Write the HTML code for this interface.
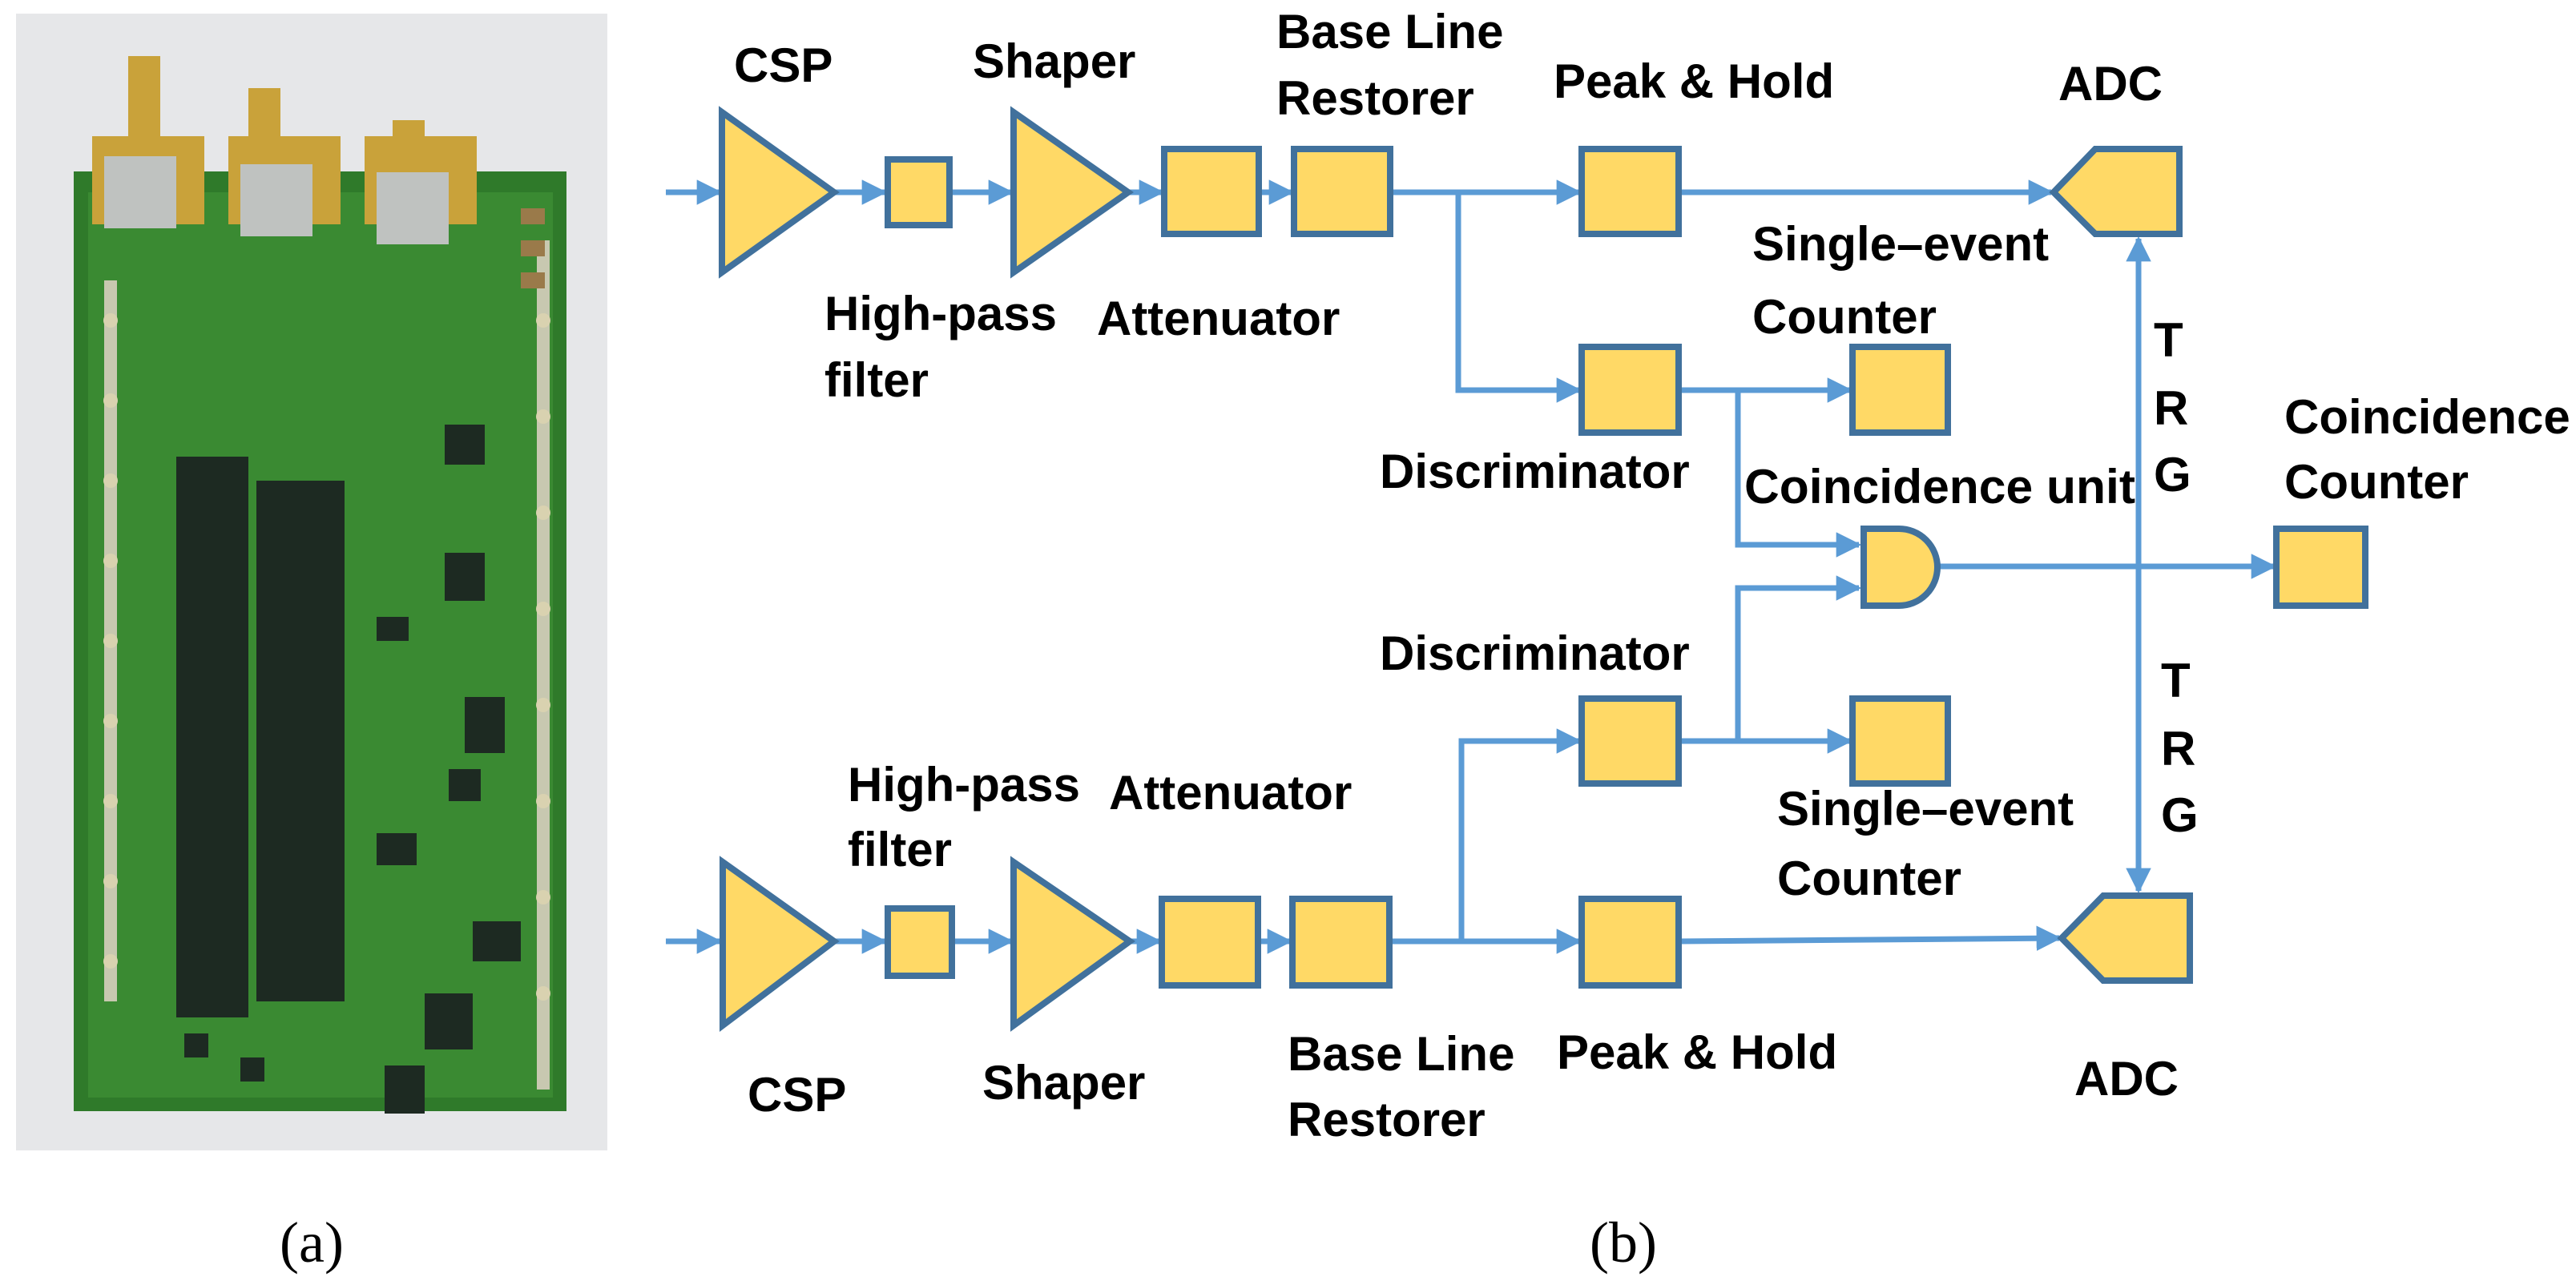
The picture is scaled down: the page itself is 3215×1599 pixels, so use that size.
<!DOCTYPE html>
<html><head><meta charset="utf-8"><style>
html,body{margin:0;padding:0;background:#fff;}
svg{display:block}
text{font-family:"Liberation Sans",sans-serif;font-weight:bold;font-size:60px;fill:#000}
.s{font-family:"Liberation Serif",serif;font-weight:normal;font-size:72px}
</style></head><body>
<svg width="3215" height="1599" viewBox="0 0 3215 1599" xmlns="http://www.w3.org/2000/svg">
<defs>
<marker id="a" viewBox="0 0 10 10" refX="9" refY="5" markerWidth="4.5" markerHeight="4.5" orient="auto-start-reverse" markerUnits="strokeWidth">
<path d="M0,0 L10,5 L0,10 z" fill="#5B9BD5"/></marker>
</defs>
<!-- photo -->
<rect x="20" y="17" width="738" height="1419" fill="#e6e7e9"/>
<rect x="92" y="214" width="615" height="1173" fill="#2f7a2a"/>
<rect x="110" y="240" width="580" height="1130" fill="#3a8a32"/>
<g fill="#c9a23a">
<rect x="115" y="170" width="140" height="110"/><rect x="285" y="170" width="140" height="110"/><rect x="455" y="170" width="140" height="110"/>
<rect x="160" y="70" width="40" height="110"/><rect x="310" y="110" width="40" height="80"/><rect x="490" y="150" width="40" height="70"/>
</g>
<g fill="#bfc2c0"><rect x="130" y="195" width="90" height="90"/><rect x="300" y="205" width="90" height="90"/><rect x="470" y="215" width="90" height="90"/></g>
<g fill="#1d2a22">
<rect x="220" y="570" width="90" height="700"/><rect x="320" y="600" width="110" height="650"/>
<rect x="555" y="530" width="50" height="50"/><rect x="555" y="690" width="50" height="60"/>
<rect x="580" y="870" width="50" height="70"/><rect x="590" y="1150" width="60" height="50"/>
<rect x="530" y="1240" width="60" height="70"/><rect x="480" y="1330" width="50" height="60"/>
<rect x="470" y="1040" width="50" height="40"/><rect x="230" y="1290" width="30" height="30"/>
<rect x="300" y="1320" width="30" height="30"/><rect x="400" y="1000" width="30" height="40"/>
<rect x="470" y="770" width="40" height="30"/><rect x="560" y="960" width="40" height="40"/>
</g>
<g fill="#c8c8b0"><rect x="130" y="350" width="16" height="900"/><rect x="670" y="300" width="16" height="1060"/></g>
<g fill="#d9d2b0">
<circle cx="138" cy="400" r="9"/><circle cx="138" cy="500" r="9"/><circle cx="138" cy="600" r="9"/><circle cx="138" cy="700" r="9"/><circle cx="138" cy="800" r="9"/><circle cx="138" cy="900" r="9"/><circle cx="138" cy="1000" r="9"/><circle cx="138" cy="1100" r="9"/><circle cx="138" cy="1200" r="9"/>
<circle cx="678" cy="400" r="9"/><circle cx="678" cy="520" r="9"/><circle cx="678" cy="640" r="9"/><circle cx="678" cy="760" r="9"/><circle cx="678" cy="880" r="9"/><circle cx="678" cy="1000" r="9"/><circle cx="678" cy="1120" r="9"/><circle cx="678" cy="1240" r="9"/>
</g>
<g fill="#9a7a4a"><rect x="650" y="260" width="30" height="20"/><rect x="650" y="300" width="30" height="20"/><rect x="650" y="340" width="30" height="20"/></g>
<text x="389" y="1575" class="s" text-anchor="middle">(a)</text>
<text x="2026" y="1575" class="s" text-anchor="middle">(b)</text>

<!-- connectors -->
<g stroke="#5B9BD5" stroke-width="7" fill="none">
<line x1="831" y1="240" x2="898" y2="240" marker-end="url(#a)"/>
<line x1="1041" y1="240" x2="1104" y2="240" marker-end="url(#a)"/>
<line x1="1189" y1="240" x2="1262" y2="240" marker-end="url(#a)"/>
<line x1="1408" y1="240" x2="1450" y2="240" marker-end="url(#a)"/>
<line x1="1571" y1="240" x2="1612" y2="240" marker-end="url(#a)"/>
<line x1="1735" y1="240" x2="1971" y2="240" marker-end="url(#a)"/>
<line x1="2095" y1="240" x2="2560" y2="240" marker-end="url(#a)"/>
<polyline points="1820,240 1820,487 1971,487" marker-end="url(#a)"/>
<line x1="2095" y1="487" x2="2309" y2="487" marker-end="url(#a)"/>
<polyline points="2169,487 2169,680 2320,680" marker-end="url(#a)"/>
<polyline points="2169,925 2169,734 2320,734" marker-end="url(#a)"/>
<line x1="2419" y1="707" x2="2838" y2="707" marker-end="url(#a)"/>
<line x1="2669" y1="298" x2="2669" y2="1112" marker-start="url(#a)" marker-end="url(#a)"/>
<line x1="831" y1="1175" x2="898" y2="1175" marker-end="url(#a)"/>
<line x1="1041" y1="1175" x2="1104" y2="1175" marker-end="url(#a)"/>
<line x1="1189" y1="1175" x2="1262" y2="1175" marker-end="url(#a)"/>
<line x1="1410" y1="1175" x2="1447" y2="1175" marker-end="url(#a)"/>
<line x1="1570" y1="1175" x2="1610" y2="1175" marker-end="url(#a)"/>
<line x1="1734" y1="1175" x2="1971" y2="1175" marker-end="url(#a)"/>
<polyline points="1824,1175 1824,925 1971,925" marker-end="url(#a)"/>
<line x1="2095" y1="925" x2="2309" y2="925" marker-end="url(#a)"/>
<line x1="2095" y1="1175" x2="2570" y2="1171" marker-end="url(#a)"/>
</g>

<!-- blocks -->
<g fill="#FFD966" stroke="#41719C" stroke-width="8">
<polygon points="901,140 1041,240 901,340"/>
<rect x="1108" y="199" width="77" height="82"/>
<polygon points="1265,140 1408,240 1265,340"/>
<rect x="1453" y="186" width="118" height="106"/>
<rect x="1615" y="186" width="120" height="106"/>
<rect x="1974" y="186" width="121" height="106"/>
<polygon points="2563,240 2615,186 2720,186 2720,292 2615,292"/>
<rect x="1974" y="433" width="121" height="107"/>
<rect x="2312" y="433" width="119" height="107"/>
<path d="M2326,660 L2370,660 A48,48 0 0 1 2370,756 L2326,756 Z"/>
<rect x="2841" y="660" width="111" height="96"/>
<rect x="1974" y="872" width="121" height="106"/>
<rect x="2312" y="872" width="119" height="106"/>
<polygon points="902,1076 1041,1175 902,1280"/>
<rect x="1108" y="1134" width="80" height="84"/>
<polygon points="1265,1076 1410,1175 1265,1280"/>
<rect x="1450" y="1122" width="120" height="108"/>
<rect x="1613" y="1122" width="121" height="108"/>
<rect x="1974" y="1122" width="121" height="108"/>
<polygon points="2573,1171 2625,1118 2733,1118 2733,1224 2625,1224"/>
</g>

<!-- labels -->
<text x="916" y="102">CSP</text>
<text x="1214" y="97">Shaper</text>
<text x="1593" y="60">Base Line</text>
<text x="1593" y="143">Restorer</text>
<text x="1939" y="122">Peak &amp; Hold</text>
<text x="2569" y="125">ADC</text>
<text x="1029" y="412">High-pass</text>
<text x="1029" y="495">filter</text>
<text x="1369" y="418">Attenuator</text>
<text x="2187" y="325">Single–event</text>
<text x="2187" y="416">Counter</text>
<text x="1722" y="609">Discriminator</text>
<text x="2177" y="628" textLength="488" lengthAdjust="spacingAndGlyphs">Coincidence unit</text>
<text x="2688" y="445">T</text>
<text x="2688" y="530">R</text>
<text x="2688" y="613">G</text>
<text x="2851" y="541">Coincidence</text>
<text x="2851" y="622">Counter</text>
<text x="1722" y="836">Discriminator</text>
<text x="1058" y="1000">High-pass</text>
<text x="1058" y="1081">filter</text>
<text x="1384" y="1010">Attenuator</text>
<text x="2218" y="1030">Single–event</text>
<text x="2218" y="1117">Counter</text>
<text x="2697" y="870">T</text>
<text x="2697" y="955">R</text>
<text x="2697" y="1038">G</text>
<text x="933" y="1387">CSP</text>
<text x="1226" y="1372">Shaper</text>
<text x="1607" y="1336">Base Line</text>
<text x="1607" y="1418">Restorer</text>
<text x="1943" y="1334">Peak &amp; Hold</text>
<text x="2589" y="1367">ADC</text>
</svg>
</body></html>
